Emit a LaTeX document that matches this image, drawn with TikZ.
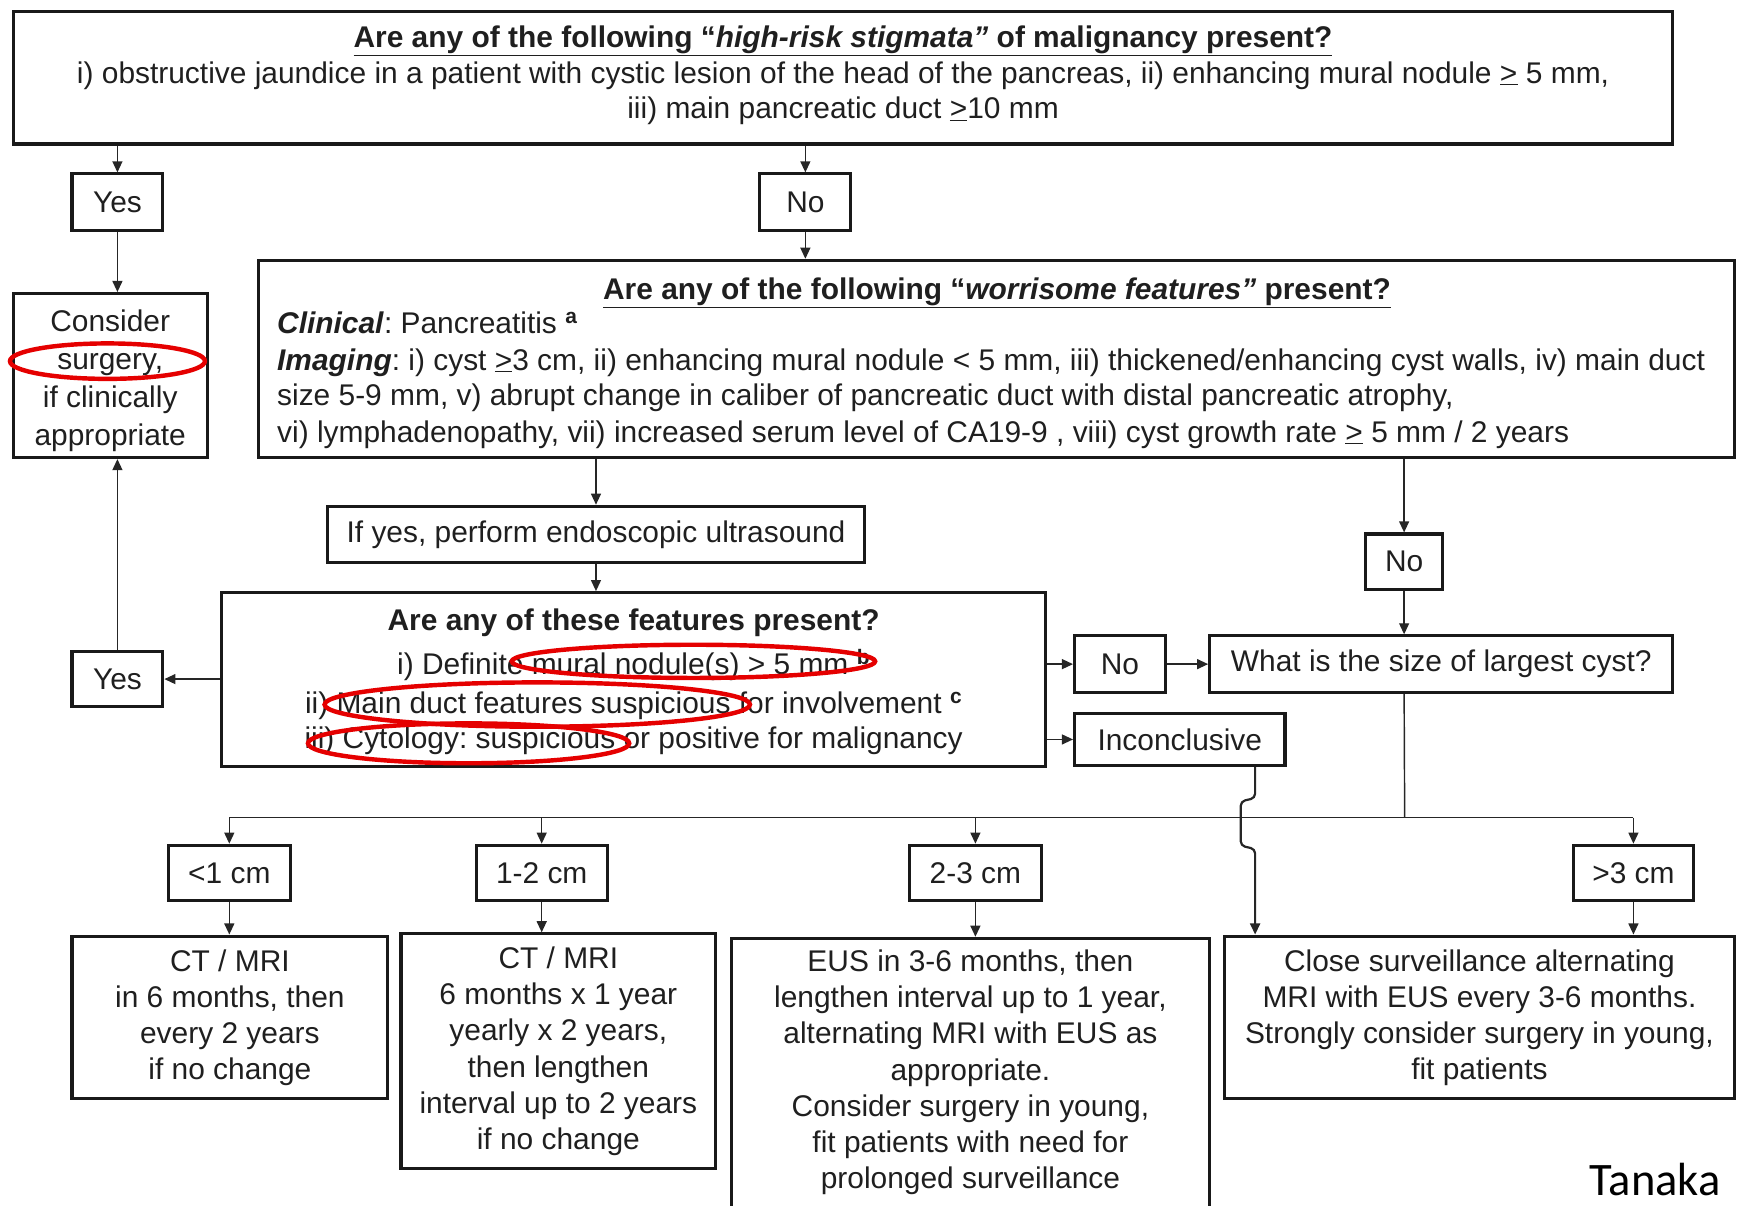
\documentclass[tikz,border=0pt]{standalone}
\usepackage{fontspec}
\setmainfont{Liberation Sans}
\newfontfamily\signfont{Carlito}
\usetikzlibrary{arrows.meta}
\frenchspacing
% "greater or equal" printed as an underlined >
\newcommand{\gequ}{\underline{>}}
\newcommand{\fnmark}[1]{\textsuperscript{\textbf{#1}}}
\begin{document}
\begin{tikzpicture}[x=1pt,y=-1pt,
  every node/.style={font=\fontsize{27}{32.6}\selectfont, text=black!88},
  box/.style={draw=black!90, line width=2.8pt, inner sep=0pt, align=center},
  txt/.style={inner sep=0pt, anchor=base},
  ltxt/.style={inner sep=0pt, anchor=base west},
  conn/.style={draw=black!85, line width=1.3pt, -{Triangle[length=10pt,width=9pt]}},
  wire/.style={draw=black!85, line width=1.3pt},
  ring/.style={draw=red!90!black, line width=4pt},
]
\useasboundingbox (0,0) rectangle (1568,1088);
\clip (0,0) rectangle (1568,1088);

% ---------- high-risk stigmata ----------
\node[box, minimum width=1498, minimum height=120] (hr) at (761,70) {};
\node[txt] (hrT) at (761,43) {\underline{\textbf{Are any of the following “\textit{high-risk stigmata”} of malignancy present?}}};
\node[txt] (hrA) at (761,75) {i) obstructive jaundice in a patient with cystic lesion of the head of the pancreas, ii) enhancing mural nodule \gequ{} 5 mm,};
\node[txt] (hrB) at (761,107) {iii) main pancreatic duct \gequ10 mm};

\node[box, minimum width=82, minimum height=51] (yes1) at (106,182.5) {Yes};
\node[box, minimum width=82, minimum height=51] (no1) at (727,182.5) {No};

\node[box, minimum width=175, minimum height=148] (consider) at (99.5,339) {};
\node[inner sep=0pt, align=center, font=\fontsize{27}{34.3}\selectfont] (considerT) at (99.5,344)
  {Consider\\ surgery,\\ if clinically\\ appropriate};

% ---------- worrisome features ----------
\node[box, minimum width=1333, minimum height=178] (wf) at (899.5,324) {};
\node[txt] (wfT) at (900,270) {\underline{\textbf{Are any of the following “\textit{worrisome features”} present?}}};
\node[ltxt] (wfA) at (250,301) {\textbf{\textit{Clinical}}: Pancreatitis \fnmark{a}};
\node[ltxt] (wfB) at (250,334) {\textbf{\textit{Imaging}}: i) cyst \gequ3 cm, ii) enhancing mural nodule < 5 mm, iii) thickened/enhancing cyst walls, iv) main duct};
\node[ltxt] (wfC) at (250,366) {size 5-9 mm, v) abrupt change in caliber of pancreatic duct with distal pancreatic atrophy,};
\node[ltxt] (wfD) at (250,399) {vi) lymphadenopathy, vii) increased serum level of CA19-9 , viii) cyst growth rate \gequ{} 5 mm / 2 years};

\node[box, minimum width=484, minimum height=51] (eus) at (538,482.5) {If yes, perform endoscopic ultrasound};

% ---------- EUS features ----------
\node[box, minimum width=744, minimum height=157] (feat) at (572,613.5) {};
\node[txt] (ftT) at (572,569) {\textbf{Are any of these features present?}};
\node[txt] (ftA) at (572,609) {i) Definite mural nodule(s) > 5 mm \fnmark{b}};
\node[txt] (ftB) at (572,644) {ii) Main duct features suspicious for involvement \fnmark{c}};
\node[txt] (ftC) at (572,676) {iii) Cytology: suspicious or positive for malignancy};

\node[box, minimum width=82, minimum height=50] (yes2) at (106,613) {Yes};
\node[box, minimum width=82, minimum height=51] (no2) at (1011,599.5) {No};
\node[box, minimum width=190, minimum height=47] (inc) at (1065,667.5) {Inconclusive};
\node[box, minimum width=69, minimum height=50] (no3) at (1267.5,507) {No};
\node[box, minimum width=418, minimum height=51] (cyst) at (1301,599.5) {What is the size of largest cyst?};

% ---------- cyst size ----------
\node[box, minimum width=110, minimum height=50] (s1) at (207,788) {<1 cm};
\node[box, minimum width=118, minimum height=50] (s2) at (489,788) {1-2 cm};
\node[box, minimum width=119, minimum height=50] (s3) at (880.5,788) {2-3 cm};
\node[box, minimum width=109, minimum height=50] (s4) at (1474.5,788) {>3 cm};

\node[box, minimum width=285, minimum height=147] (b1) at (207.5,918.5)
  {CT / MRI\\ in 6 months, then\\ every 2 years\\ if no change};
\node[box, minimum width=284, minimum height=212] (b2) at (504,949)
  {CT / MRI\\ 6 months x 1 year\\ yearly x 2 years,\\ then lengthen\\ interval up to 2 years\\ if no change};
\node[box, minimum width=432, minimum height=263] (b3) at (876,978.5) {};
\node[inner sep=0pt, align=center] (b3t) at (876,968)
  {EUS in 3-6 months, then\\ lengthen interval up to 1 year,\\ alternating MRI with EUS as\\ appropriate.\\ Consider surgery in young,\\ fit patients with need for\\ prolonged surveillance};
\node[box, minimum width=461, minimum height=147] (b4) at (1335.5,918.5)
  {Close surveillance alternating\\ MRI with EUS every 3-6 months.\\ Strongly consider surgery in young,\\ fit patients};

\node[inner sep=0pt, anchor=base, font=\signfont\fontsize{42}{42}\selectfont, text=black] (sig) at (1494,1079) {Tanaka};

% ---------- connectors ----------
\draw[conn] (yes1.north |- hr.south) -- (yes1.north);
\draw[conn] (no1.north |- hr.south) -- (no1.north);
\draw[conn] (yes1.south) -- (yes1.south |- consider.north);
\draw[conn] (no1.south) -- (no1.south |- wf.north);
\draw[conn] (eus.north |- wf.south) -- (eus.north);
\draw[conn] (eus.south) -- (eus.south |- feat.north);
\draw[conn] (feat.west |- yes2.east) -- (yes2.east);
\draw[conn] (yes2.north) -- (yes2.north |- consider.south);
\draw[conn] (feat.east |- no2.west) -- (no2.west);
\draw[conn] (no2.east) -- (cyst.west |- no2.east);
\draw[conn] (feat.east |- inc.west) -- (inc.west);
\draw[conn] (no3.north |- wf.south) -- (no3.north);
\draw[conn] (no3.south) -- (no3.south |- cyst.north);

% bus from the cyst-size question to the four size classes
\coordinate (bus) at (1268,738);
\draw[wire] (no3.south |- cyst.south) -- (bus);
\draw[wire] (s1.north |- bus) -- (s4.north |- bus);
\draw[conn] (s1.north |- bus) -- (s1.north);
\draw[conn] (s2.north |- bus) -- (s2.north);
\draw[conn] (s3.north |- bus) -- (s3.north);
\draw[conn] (s4.north |- bus) -- (s4.north);

\draw[conn] (s1.south) -- (s1.south |- b1.north);
\draw[conn] (s2.south) -- (s2.south |- b2.north);
\draw[conn] (s3.south) -- (s3.south |- b3.north);
\draw[conn] (s4.south) -- (s4.south |- b4.north);

% inconclusive result hops over the bus down to close surveillance
\coordinate (incx) at (1133,0);
\draw[conn, line width=2pt, rounded corners=4pt] (inc.south -| incx) -- ++(0,28) -- ++(-13,3) -- ++(0,40) -- ++(13,3) -- (b4.north -| incx);

% ---------- red highlight rings ----------
\draw[ring] (97,326) ellipse [x radius=88, y radius=16];
\draw[ring] (626,597) ellipse [x radius=164, y radius=15];
\draw[ring] (485,636) ellipse [x radius=192, y radius=20];
\draw[ring] (423,671) ellipse [x radius=145, y radius=18];
\end{tikzpicture}
\end{document}
